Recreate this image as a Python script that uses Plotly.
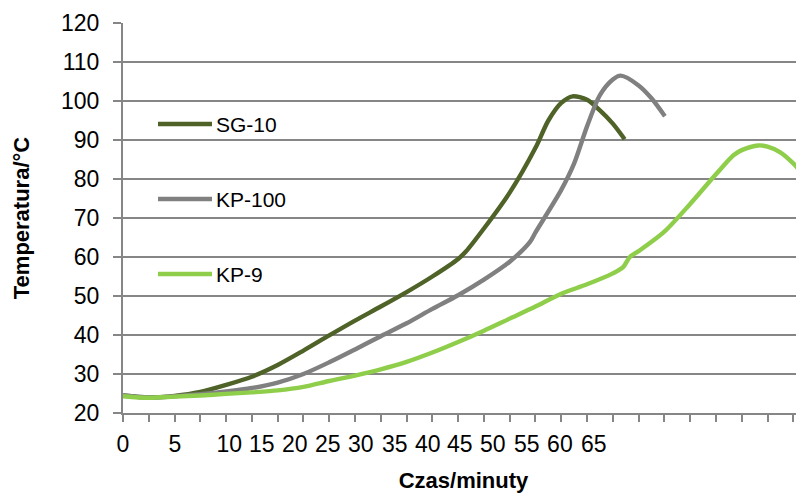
import plotly.graph_objects as go

# ---- data (time in minutes, temperature in °C) ----
series_names = ["SG-10", "KP-100", "KP-9"]
series_colors = ["#4F6228", "#808080", "#8FCE4A"]

sg10_time = [0, 2.5, 5, 7.5, 10, 12.5, 15, 17.5, 20, 22.5, 25, 27.5, 30, 32.5, 33.25,
             35, 37.5, 40, 41.25, 42.5, 43.6, 45, 46.25, 47.5, 48.65]
sg10_temp = [24.5, 24.0, 24.4, 25.4, 27.2, 29.3, 32.3, 36.0, 39.9, 43.7, 47.3, 51.0, 55.0, 59.5, 61.4,
             67.3, 76.5, 88.0, 95.0, 99.5, 101.2, 100.3, 97.6, 94.2, 90.2]

kp100_time = [0, 2.5, 5, 7.5, 10, 12.5, 15, 17.5, 20, 22.5, 25, 27.5, 30, 32.5, 35, 37.5, 39.45,
              40, 42.5, 43.75, 45, 46.25, 47.5, 48.25, 50, 51.25, 52.55]
kp100_temp = [24.5, 24.0, 24.3, 24.8, 25.5, 26.4, 27.8, 30.0, 33.0, 36.3, 39.7, 43.0, 46.7, 50.2, 54.2, 58.8, 63.8,
              66.3, 77.2, 84.0, 93.5, 101.5, 105.5, 106.5, 104.0, 100.7, 96.1]

kp9_time = [0, 2.5, 5, 7.5, 10, 12.5, 15, 17.5, 20, 22.5, 25, 27.5, 30, 32.5, 35, 37.5, 40, 42.5, 45,
            47.5, 48.5, 49.15, 50, 52.5, 55, 57.5, 59.2, 60, 61.6, 62.5, 63.7, 65, 66.0, 67.5]
kp9_temp = [24.3, 23.9, 24.2, 24.5, 24.9, 25.3, 25.8, 26.7, 28.2, 29.6, 31.2, 33.1, 35.5, 38.2, 41.1, 44.2, 47.3, 50.6, 53.0,
            55.8, 57.4, 60.0, 61.5, 66.5, 73.6, 81.2, 86.1, 87.4, 88.6, 88.3, 86.9, 84.0, 81.0, 76.5]

# x-axis labels as printed on the original chart, and where they sit (minutes)
x_label_text = ["0", "5", "10", "15", "20", "25", "30", "35", "40", "45", "50", "55", "60", "65"]
x_label_pos = [0, 5.02, 10.3, 13.46, 16.66, 19.86, 23.06, 26.36, 29.56, 32.66, 35.86, 39.16, 42.37, 45.66]

y_ticks = [20, 30, 40, 50, 60, 70, 80, 90, 100, 110, 120]

all_time = [sg10_time, kp100_time, kp9_time]
all_temp = [sg10_temp, kp100_temp, kp9_temp]

FONT = "Liberation Sans, Arial, sans-serif"
GRID = "#868686"

fig = go.Figure()
for name, color, t, v in zip(series_names, series_colors, all_time, all_temp):
    fig.add_trace(go.Scatter(
        x=t, y=v, name=name, mode="lines",
        line=dict(color=color, width=4.4, shape="spline", smoothing=0.8),
        showlegend=False,
    ))

# manual legend (long line keys like the original)
legend_y = [0.741, 0.5487, 0.3564]
for name, color, ly in zip(series_names, series_colors, legend_y):
    fig.add_shape(type="line", xref="paper", yref="paper",
                  x0=0.0514, x1=0.1307, y0=ly, y1=ly,
                  line=dict(color=color, width=4.5))
    fig.add_annotation(xref="paper", yref="paper", x=0.1336, y=ly,
                       text=name, showarrow=False, xanchor="left", yanchor="middle",
                       font=dict(family=FONT, size=21, color="#000000"))

# page body adds an 8px offset, so the figure is 8px smaller on each axis
fig.update_layout(
    width=796, height=485,
    margin=dict(l=115, r=0, t=15, b=80),
    paper_bgcolor="white", plot_bgcolor="white",
    font=dict(family=FONT, color="#000000"),
    showlegend=False,
)

fig.update_xaxes(
    range=[0, 66.04],
    automargin=False,
    showgrid=False, zeroline=False,
    showline=True, linecolor=GRID, linewidth=2,
    tickmode="array", tickvals=x_label_pos, ticktext=x_label_text,
    ticks="", ticklabelstandoff=9,
    tickfont=dict(family=FONT, size=23, color="#000000"),
    minor=dict(ticks="outside", ticklen=7, tickwidth=1.5, tickcolor=GRID,
               tickmode="linear", tick0=0, dtick=2.5, showgrid=False),
    title=dict(text="Czas/minuty", standoff=17,
               font=dict(family=FONT, size=22, color="#000000", weight="bold")),
)

fig.update_yaxes(
    range=[20, 120],
    automargin=False,
    tickmode="array", tickvals=y_ticks,
    showgrid=True, gridcolor=GRID, gridwidth=1.5,
    zeroline=False,
    showline=True, linecolor=GRID, linewidth=2,
    ticks="outside", ticklen=8, tickwidth=1.5, tickcolor=GRID,
    ticklabelstandoff=9,
    tickfont=dict(family=FONT, size=23, color="#000000"),
    title=dict(text="Temperatura/°C", standoff=25,
               font=dict(family=FONT, size=22, color="#000000", weight="bold")),
)

fig.write_html("out.html")
